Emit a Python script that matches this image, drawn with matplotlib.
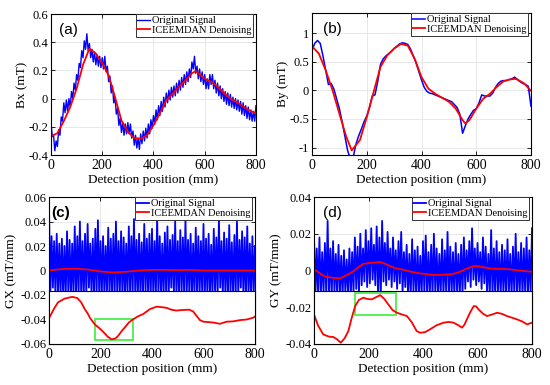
import numpy as np
import matplotlib
matplotlib.use("Agg")
import matplotlib.pyplot as plt
from matplotlib.patches import Rectangle
from matplotlib.ticker import FuncFormatter

plt.rcParams['font.family'] = ['Liberation Serif', 'DejaVu Serif']
plt.rcParams['axes.linewidth'] = 0.8

BLUE = '#0000ff'
RED = '#ff0000'
GREEN = '#3cee3c'

# ---- panel (a): Bx ----
bx_pos = np.arange(0, 801, 5)
bx_orig = [-0.17, -0.27, -0.26, -0.37, -0.30, -0.34, -0.22, -0.26, -0.13, -0.16,
           -0.03, -0.10, -0.01, -0.09, 0.00, -0.06, 0.05, 0.00, 0.11, 0.06,
           0.17, 0.13, 0.25, 0.22, 0.34, 0.29, 0.41, 0.35, 0.46, 0.34,
           0.39, 0.29, 0.35, 0.26, 0.33, 0.24, 0.31, 0.23, 0.30, 0.22,
           0.29, 0.21, 0.30, 0.19, 0.23, 0.12, 0.16, 0.04, 0.09, -0.03,
           0.01, -0.11, -0.07, -0.19, -0.14, -0.24, -0.17, -0.26, -0.18, -0.25,
           -0.17, -0.25, -0.18, -0.28, -0.23, -0.33, -0.26, -0.35, -0.28, -0.36,
           -0.25, -0.32, -0.23, -0.30, -0.21, -0.28, -0.18, -0.25, -0.15, -0.21,
           -0.12, -0.18, -0.08, -0.15, -0.05, -0.12, -0.02, -0.09, 0.01, -0.06,
           0.04, -0.03, 0.06, -0.01, 0.08, 0.01, 0.09, 0.02, 0.11, 0.04,
           0.13, 0.06, 0.15, 0.08, 0.17, 0.10, 0.19, 0.12, 0.21, 0.15,
           0.26, 0.21, 0.30, 0.18, 0.23, 0.14, 0.21, 0.12, 0.19, 0.10,
           0.17, 0.07, 0.14, 0.07, 0.17, 0.10, 0.17, 0.07, 0.13, 0.04,
           0.11, 0.02, 0.09, 0.00, 0.07, -0.02, 0.05, -0.04, 0.04, -0.05,
           0.03, -0.06, 0.01, -0.07, 0.00, -0.08, -0.01, -0.09, -0.02, -0.11,
           -0.03, -0.12, -0.05, -0.14, -0.06, -0.15, -0.08, -0.16, -0.09, -0.16,
           -0.05]
bx_den_pos = [0, 25, 50, 75, 100, 125, 150, 175, 200, 225, 250, 275, 300, 325,
              350, 375, 400, 425, 450, 475, 500, 525, 550, 565, 600, 625, 650,
              675, 700, 725, 750, 775, 800]
bx_den = [-0.267, -0.245, -0.16, -0.06, 0.07, 0.24, 0.355, 0.32, 0.25, 0.165,
          0.01, -0.155, -0.235, -0.28, -0.285, -0.26, -0.19, -0.105, -0.01,
          0.035, 0.085, 0.13, 0.18, 0.195, 0.14, 0.12, 0.085, 0.04, 0.0,
          -0.025, -0.055, -0.085, -0.105]

# ---- panel (b): By ----
by_pos = np.arange(0, 801, 10)
by_orig = [0.70, 0.82, 0.87, 0.82, 0.60, 0.35, 0.10, 0.12, 0.02, -0.15,
           -0.32, -0.55, -0.80, -1.05, -1.20, -1.18, -0.95, -0.80, -0.68, -0.55,
           -0.45, -0.30, -0.10, -0.08, 0.15, 0.45, 0.55, 0.60, 0.64, 0.68,
           0.73, 0.77, 0.81, 0.83, 0.82, 0.80, 0.72, 0.60, 0.48, 0.33,
           0.18, 0.05, -0.02, -0.05, -0.06, -0.08, -0.10, -0.12, -0.14, -0.16,
           -0.18, -0.20, -0.25, -0.30, -0.42, -0.75, -0.62, -0.50, -0.42, -0.35,
           -0.32, -0.22, -0.08, -0.10, -0.10, -0.10, -0.05, 0.05, 0.12, 0.16,
           0.17, 0.17, 0.19, 0.20, 0.23, 0.19, 0.15, 0.12, 0.10, 0.07,
           -0.28]
by_den_pos = [0, 25, 50, 75, 100, 125, 145, 175, 200, 225, 250, 275, 300, 325,
              350, 375, 400, 425, 450, 475, 500, 525, 550, 560, 575, 600, 625,
              650, 675, 700, 725, 740, 750, 775, 800]
by_den = [0.77, 0.64, 0.35, 0.0, -0.41, -0.81, -1.05, -0.87, -0.47, -0.03,
          0.41, 0.61, 0.73, 0.81, 0.78, 0.55, 0.23, 0.03, -0.06, -0.13,
          -0.20, -0.32, -0.52, -0.58, -0.52, -0.32, -0.15, -0.06, 0.06, 0.16,
          0.19, 0.20, 0.19, 0.12, -0.01]

# ---- panel (c): GX ----
g_pos = np.arange(0, 801, 5)
gx_peaks = [0.052, 0.028, 0.024, 0.030, 0.022, 0.026, 0.020, 0.032, 0.025, 0.022,
            0.036, 0.028, 0.040, 0.024, 0.030, 0.038, 0.022, 0.026, 0.034, 0.041,
            0.024, 0.028, 0.020, 0.035, 0.026, 0.030, 0.040, 0.024, 0.032, 0.027,
            0.022, 0.036, 0.028, 0.042, 0.025, 0.030, 0.023, 0.038, 0.026, 0.030,
            0.034, 0.024, 0.044, 0.028, 0.022, 0.031, 0.036, 0.025, 0.029, 0.040,
            0.024, 0.033, 0.027, 0.043, 0.025, 0.030, 0.022, 0.035, 0.028, 0.024,
            0.038, 0.026, 0.030, 0.021, 0.034, 0.027, 0.042, 0.024, 0.031, 0.026,
            0.037, 0.023, 0.029, 0.040, 0.025, 0.032, 0.027, 0.036, 0.022, 0.028,
            0.020]
gx_troughs = [-0.020, -0.014, -0.021, -0.019, -0.020, -0.022, -0.020, -0.019,
              -0.021, -0.020, -0.022, -0.019, -0.020, -0.021, -0.020, -0.014,
              -0.020, -0.022, -0.019, -0.020, -0.021, -0.020, -0.019, -0.022,
              -0.020, -0.021, -0.020, -0.019, -0.022, -0.020, -0.021, -0.020,
              -0.019, -0.020, -0.022, -0.020, -0.021, -0.019, -0.020, -0.022,
              -0.020, -0.021, -0.020, -0.019, -0.022, -0.020, -0.021, -0.014,
              -0.020, -0.022, -0.019, -0.020, -0.021, -0.020, -0.019, -0.022,
              -0.020, -0.021, -0.020, -0.019, -0.022, -0.020, -0.021, -0.020,
              -0.019, -0.020, -0.014, -0.021, -0.020, -0.022, -0.019, -0.020,
              -0.021, -0.020, -0.014, -0.022, -0.020, -0.021, -0.020, -0.019]
gx_den_pos = [0, 50, 100, 150, 200, 250, 300, 350, 400, 450, 500, 550, 600,
              650, 700, 750, 800]
gx_den = [0.0, 0.0012, 0.0015, 0.0008, -0.0008, -0.0016, -0.001, 0.0, 0.0005,
          0.0005, 0.0003, 0.0005, 0.0, 0.0, 0.0, 0.0, 0.0]
gx_zoom_pos = [0, 20, 35, 60, 90, 110, 125, 139, 150, 160, 178, 195, 210, 228,
               243, 258, 270, 282, 294, 310, 327, 345, 366, 392, 418, 440, 457,
               475, 495, 521, 545, 560, 573, 586, 600, 612, 625, 638, 664, 690,
               716, 742, 768, 793, 800]
gx_zoom = [-0.039, -0.031, -0.026, -0.023, -0.0215, -0.0225, -0.026, -0.0316,
           -0.035, -0.039, -0.044, -0.047, -0.050, -0.054, -0.0562, -0.0555,
           -0.053, -0.0495, -0.0466, -0.0425, -0.0398, -0.0375, -0.0355, -0.0315,
           -0.0295, -0.030, -0.0305, -0.032, -0.0327, -0.0322, -0.032, -0.0335,
           -0.037, -0.0405, -0.0418, -0.042, -0.0422, -0.0425, -0.0435, -0.0418,
           -0.0415, -0.0405, -0.040, -0.0385, -0.0376]
gx_box = (178, 327, -0.057, -0.040)

# ---- panel (d): GY ----
gy_peaks = [0.020, 0.012, 0.018, 0.010, 0.015, 0.027, 0.012, 0.016, 0.009, 0.014,
            0.008, 0.011, 0.006, 0.012, 0.010, 0.018, 0.013, 0.020, 0.012, 0.022,
            0.016, 0.023, 0.014, 0.024, 0.018, 0.027, 0.015, 0.021, 0.012, 0.018,
            0.011, 0.016, 0.021, 0.010, 0.014, 0.009, 0.017, 0.011, 0.013, 0.008,
            0.016, 0.019, 0.010, 0.014, 0.020, 0.012, 0.009, 0.017, 0.011, 0.021,
            0.013, 0.010, 0.015, 0.009, 0.014, 0.018, 0.011, 0.016, 0.023, 0.012,
            0.015, 0.010, 0.018, 0.013, 0.009, 0.022, 0.012, 0.016, 0.010, 0.014,
            0.011, 0.017, 0.009, 0.013, 0.020, 0.010, 0.015, 0.012, 0.018, 0.011,
            0.023]
gy_troughs = [-0.014, -0.013, -0.014, -0.012, -0.014, -0.013, -0.014, -0.012,
              -0.014, -0.013, -0.014, -0.012, -0.013, -0.014, -0.012, -0.010,
              -0.013, -0.008, -0.006, -0.009, -0.007, -0.005, -0.008, -0.013,
              -0.014, -0.006, -0.008, -0.005, -0.009, -0.006, -0.010, -0.007,
              -0.012, -0.009, -0.013, -0.014, -0.012, -0.014, -0.013, -0.014,
              -0.012, -0.014, -0.013, -0.014, -0.012, -0.014, -0.013, -0.014,
              -0.012, -0.014, -0.013, -0.014, -0.012, -0.014, -0.013, -0.010,
              -0.006, -0.009, -0.005, -0.008, -0.006, -0.010, -0.007, -0.012,
              -0.014, -0.013, -0.014, -0.012, -0.014, -0.013, -0.014, -0.012,
              -0.014, -0.013, -0.014, -0.012, -0.014, -0.013, -0.014, -0.012]
gy_den_pos = [0, 40, 70, 96, 120, 145, 165, 181, 210, 243, 262, 279, 300, 328,
              360, 390, 445, 506, 535, 555, 575, 592, 620, 653, 714, 763, 800]
gy_den = [0.0006, -0.0033, -0.0040, -0.0043, -0.0025, -0.0004, 0.0020, 0.0036,
          0.0042, 0.0046, 0.0036, 0.0024, 0.0012, 0.0004, -0.0008, -0.0016,
          -0.0025, -0.002, -0.0008, 0.0007, 0.0018, 0.0025, 0.0018, 0.001,
          0.0007, -0.0002, -0.0007]
gy_zoom_pos = [0, 15, 34, 55, 71, 85, 98, 112, 126, 138, 151, 165, 181, 196,
               212, 228, 243, 258, 273, 288, 304, 320, 341, 358, 377, 390, 408,
               426, 450, 475, 495, 512, 530, 543, 552, 561, 573, 586, 595, 604,
               620, 635, 652, 672, 690, 708, 727, 745, 765, 782, 800]
gy_zoom = [-0.0239, -0.030, -0.0348, -0.0360, -0.0362, -0.0375, -0.0393, -0.037,
           -0.033, -0.026, -0.0194, -0.0160, -0.0148, -0.0155, -0.0157, -0.0145,
           -0.0134, -0.0155, -0.0185, -0.0215, -0.023, -0.0238, -0.0248, -0.028,
           -0.033, -0.0339, -0.0335, -0.032, -0.0298, -0.0284, -0.0280, -0.0284,
           -0.0298, -0.0311, -0.0295, -0.0266, -0.0228, -0.0194, -0.0195, -0.0212,
           -0.0235, -0.0248, -0.0240, -0.023, -0.0236, -0.0248, -0.0257, -0.0266,
           -0.0278, -0.0293, -0.0284]
gy_box = (151, 302, -0.0243, -0.0121)


def interleave(peaks, troughs):
    out = np.empty(len(peaks) + len(troughs))
    out[0::2] = peaks
    out[1::2] = troughs
    return out


def style_axes(ax, ylim, yticks, ylabel, letter, lx, bold=False, ypad=2):
    ax.set_xlim(0, 800)
    ax.set_ylim(*ylim)
    ax.set_xticks([0, 200, 400, 600, 800])
    ax.set_yticks(yticks)
    ax.yaxis.set_major_formatter(FuncFormatter(lambda v, p: f'{round(v, 6):g}'))
    ax.tick_params(direction='in', top=True, right=True, length=3, width=0.6)
    ax.tick_params(axis='x', labelsize=10, pad=3)
    ax.tick_params(axis='y', labelsize=9, pad=2)
    ax.grid(True, color='#e4e4e4', lw=0.6)
    ax.set_axisbelow(True)
    ax.set_xlabel('Detection position (mm)', fontsize=9.5, labelpad=1)
    ax.set_ylabel(ylabel, fontsize=9.5, labelpad=ypad)
    ax.text(lx, 0.89, letter, transform=ax.transAxes, ha='center', va='center',
            fontsize=11, family='Liberation Sans',
            fontweight='bold' if bold else 'normal', zorder=6)
    leg = ax.legend(loc='upper right', bbox_to_anchor=(0.985, 0.997),
                    borderaxespad=0, fontsize=7.5, handlelength=1.2,
                    handletextpad=0.2, labelspacing=0.05, borderpad=0.15,
                    fancybox=False, framealpha=1, edgecolor='#333333')
    leg.get_frame().set_linewidth(0.7)
    leg.set_zorder(8)


def add_zoom(ax, frac, pos, vals, box):
    y0, y1 = ax.get_ylim()
    ins = ax.inset_axes([0, 0, 1, frac])
    ins.set_facecolor('white')
    ins.plot(pos, vals, color=RED, lw=1.3)
    ins.add_patch(Rectangle((box[0], box[2]), box[1] - box[0], box[3] - box[2],
                            fill=False, edgecolor=GREEN, lw=1.2))
    ins.set_xlim(0, 800)
    ins.set_ylim(y0, y0 + frac * (y1 - y0))
    ins.set_xticks([])
    ins.set_yticks([])
    for s in ins.spines.values():
        s.set_linewidth(0.8)


fig = plt.figure(figsize=(5.5, 3.85), dpi=100)

ax_a = fig.add_axes([0.0927, 0.5974, 0.3727, 0.3662])
ax_a.plot(bx_pos, bx_orig, color=BLUE, lw=1.0, label='Original Signal')
ax_a.plot(bx_den_pos, bx_den, color=RED, lw=1.3, label='ICEEMDAN Denoising')
style_axes(ax_a, (-0.4, 0.6), [-0.4, -0.2, 0, 0.2, 0.4, 0.6], 'Bx (mT)', '(a)',
           0.083, ypad=0)

ax_b = fig.add_axes([0.5673, 0.5974, 0.3982, 0.3688])
ax_b.plot(by_pos, by_orig, color=BLUE, lw=1.1, label='Original Signal')
ax_b.plot(by_den_pos, by_den, color=RED, lw=1.3, label='ICEEMDAN Denoising')
style_axes(ax_b, (-1.13, 1.35), [-1, -0.5, 0, 0.5, 1], 'By (mT)', '(b)',
           0.091, ypad=0)

ax_c = fig.add_axes([0.0891, 0.1065, 0.3745, 0.3818])
ax_c.plot(g_pos, interleave(gx_peaks, gx_troughs), color=BLUE, lw=1.3,
          label='Original Signal')
ax_c.plot(gx_den_pos, gx_den, color=RED, lw=1.3, label='ICEEMDAN Denoising')
style_axes(ax_c, (-0.06, 0.06), [-0.06, -0.04, -0.02, 0, 0.02, 0.04, 0.06],
           'GX (mT/mm)', '(c)', 0.058, bold=True)
add_zoom(ax_c, 0.3625, gx_zoom_pos, gx_zoom, gx_box)

ax_d = fig.add_axes([0.5709, 0.1065, 0.3964, 0.3818])
ax_d.plot(g_pos, interleave(gy_peaks, gy_troughs), color=BLUE, lw=1.3,
          label='Original Signal')
ax_d.plot(gy_den_pos, gy_den, color=RED, lw=1.3, label='ICEEMDAN Denoising')
style_axes(ax_d, (-0.04, 0.04), [-0.04, -0.02, 0, 0.02, 0.04],
           'GY (mT/mm)', '(d)', 0.085)
add_zoom(ax_d, 0.36, gy_zoom_pos, gy_zoom, gy_box)

fig.savefig('out.png', dpi=100)
